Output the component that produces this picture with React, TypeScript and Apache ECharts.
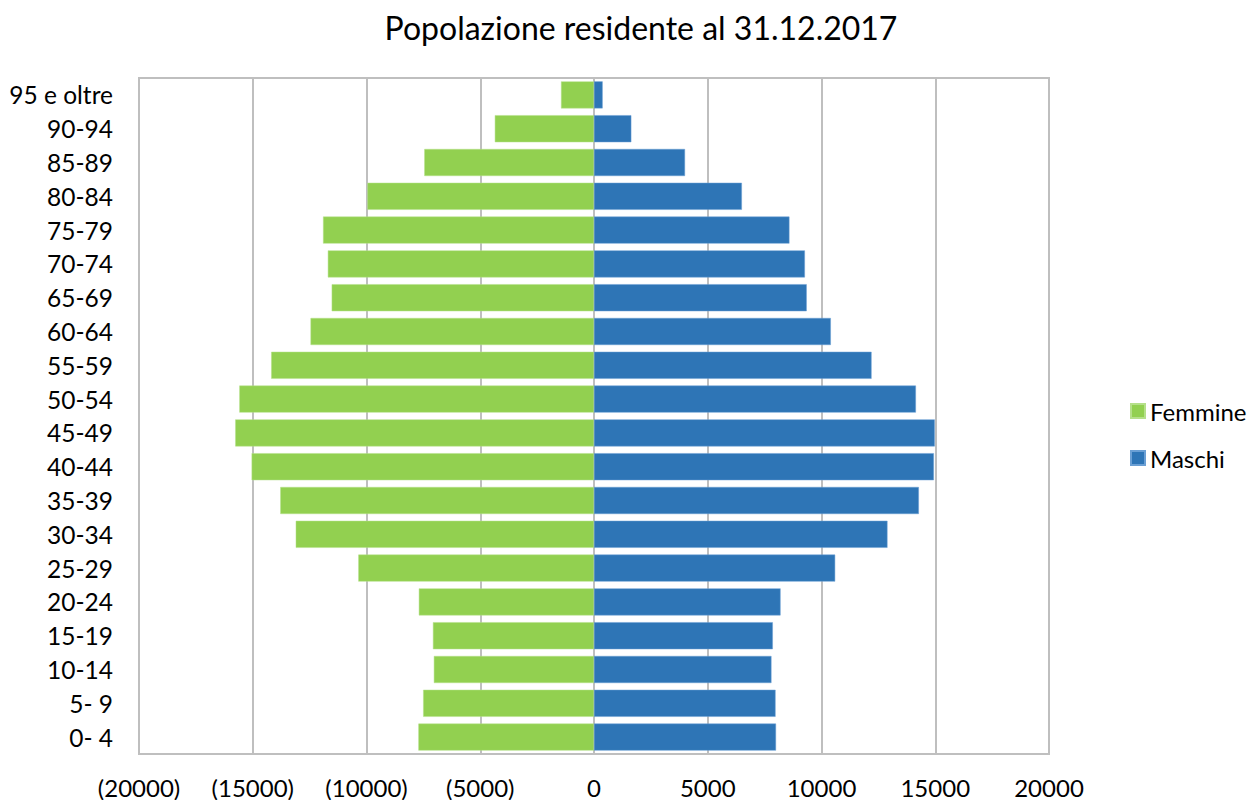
import React, { useEffect, useRef } from "react";
import * as echarts from "echarts";

const categories = [
  "0- 4", "5- 9", "10-14", "15-19", "20-24", "25-29", "30-34", "35-39", "40-44", "45-49",
  "50-54", "55-59", "60-64", "65-69", "70-74", "75-79", "80-84", "85-89", "90-94", "95 e oltre",
];
const femmine = [
  7720, 7510, 7040, 7080, 7700, 10360, 13110, 13790, 15050, 15770,
  15590, 14190, 12460, 11530, 11700, 11910, 9960, 7460, 4360, 1450,
];
const maschi = [
  8000, 7980, 7800, 7860, 8200, 10600, 12900, 14280, 14940, 14980,
  14150, 12200, 10410, 9350, 9270, 8590, 6500, 4000, 1640, 380,
];
const xTicks = { min: -20000, max: 20000, interval: 5000 };
const title = "Popolazione residente al 31.12.2017";
const FONT = "Lato, 'Open Sans', sans-serif";

export default function App() {
  const ref = useRef<HTMLDivElement>(null);
  useEffect(() => {
    if (!ref.current) return;
    const chart = echarts.init(ref.current, null, { renderer: "svg" });
    chart.setOption({
      animation: false,
      backgroundColor: "#ffffff",
      textStyle: { fontFamily: FONT },
      title: {
        text: title,
        left: 636,
        textAlign: "center",
        top: 6,
        textStyle: { fontFamily: FONT, fontSize: 32, fontWeight: "normal", color: "#000" },
      },
      legend: {
        orient: "vertical",
        left: 1125,
        top: 394,
        itemWidth: 14,
        itemHeight: 14,
        itemGap: 23,
        icon: "rect",
        textStyle: { fontFamily: FONT, fontSize: 24, color: "#000" },
        data: ["Femmine", "Maschi"],
      },
      grid: {
        left: 139,
        right: 204,
        top: 78,
        bottom: 46,
        show: true,
        borderColor: "#BFBFBF",
        borderWidth: 2,
        backgroundColor: "#fff",
      },
      xAxis: {
        type: "value",
        min: xTicks.min,
        max: xTicks.max,
        interval: xTicks.interval,
        axisLine: { show: false },
        axisTick: { show: false },
        axisLabel: {
          margin: 21,
          fontFamily: FONT,
          fontSize: 24,
          color: "#000",
          formatter: (v: number) => (v < 0 ? `(${-v})` : `${v}`),
        },
        splitLine: { show: true, lineStyle: { color: "#BFBFBF", width: 2 } },
      },
      yAxis: {
        type: "category",
        data: categories,
        axisLine: { show: false },
        axisTick: { show: false },
        splitLine: { show: false },
        axisLabel: { margin: 26, fontFamily: FONT, fontSize: 24.5, color: "#000" },
      },
      series: [
        {
          name: "Femmine",
          type: "bar",
          stack: "pop",
          barCategoryGap: "20%",
          itemStyle: { color: "#92D050", borderColor: "#B5E08A", borderWidth: 0.5 },
          data: femmine.map((v) => -v),
        },
        {
          name: "Maschi",
          type: "bar",
          stack: "pop",
          barCategoryGap: "20%",
          itemStyle: { color: "#2E75B6", borderColor: "#6A9FD4", borderWidth: 0.5 },
          data: maschi,
        },
      ],
    });
    return () => chart.dispose();
  }, []);
  return (
    <div
      ref={ref}
      style={{ position: "absolute", left: 0, top: 0, width: 1253, height: 800 }}
    />
  );
}
